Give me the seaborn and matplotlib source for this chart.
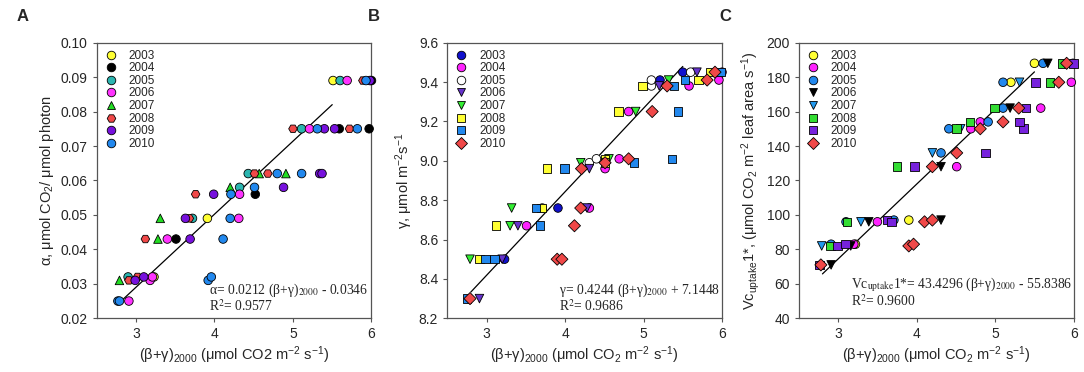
import matplotlib
matplotlib.use("Agg")
import matplotlib.pyplot as plt
import numpy as np
import pandas as pd
import seaborn as sns

years = ["2003", "2004", "2005", "2006", "2007", "2008", "2009", "2010"]

# panel A: alpha
a_x = [5.51, 3.91, 3.23,
       6.00, 5.59, 5.97, 4.52, 3.51,
       5.60, 5.11, 4.43, 4.32, 3.72, 2.90,
       5.69, 5.21, 4.32, 4.31, 3.40, 3.18, 3.21, 2.91,
       4.57, 4.91, 4.20, 3.31, 3.28, 2.79,
       5.89, 5.00, 5.72, 4.51, 4.68, 3.76, 3.68, 3.12, 2.91, 3.02,
       5.98, 5.40, 5.53, 5.34, 5.37, 4.88, 3.99, 3.63, 3.69, 2.99, 3.10,
       5.93, 5.31, 5.82, 4.80, 5.11, 4.51, 4.21, 4.20, 4.11, 3.92, 3.96, 2.77, 2.79]
a_y = [0.089, 0.049, 0.032,
       0.089, 0.075, 0.075, 0.056, 0.043,
       0.089, 0.075, 0.062, 0.058, 0.049, 0.032,
       0.089, 0.075, 0.056, 0.049, 0.043, 0.031, 0.032, 0.025,
       0.062, 0.062, 0.058, 0.049, 0.043, 0.031,
       0.089, 0.075, 0.075, 0.062, 0.062, 0.056, 0.049, 0.043, 0.031, 0.032,
       0.089, 0.075, 0.075, 0.062, 0.062, 0.058, 0.056, 0.049, 0.043, 0.031, 0.032,
       0.089, 0.075, 0.075, 0.062, 0.062, 0.058, 0.056, 0.049, 0.043, 0.031, 0.032, 0.025, 0.025]
a_n = [3, 5, 6, 8, 6, 10, 11, 13]

# panel B: gamma
b_x = [3.91, 3.23, 5.21, 5.50,
       3.51, 4.31, 4.51, 4.69, 4.81, 5.58, 5.96, 6.00,
       3.71, 4.31, 4.40, 5.10, 5.10, 5.60,
       2.91, 3.20, 3.40, 4.31, 4.28, 5.20, 5.68,
       2.79, 3.30, 3.32, 4.20, 4.56, 4.90, 5.32,
       2.91, 3.12, 3.70, 3.77, 4.51, 4.51, 4.68, 4.99, 5.70, 5.85,
       2.75, 2.99, 3.10, 3.68, 3.63, 3.99, 4.88, 5.36, 5.44, 5.39, 5.53, 5.98,
       2.79, 3.90, 3.96, 4.12, 4.20, 4.21, 4.51, 4.81, 5.11, 5.30, 5.81, 5.91]
b_y = [8.76, 8.50, 9.41, 9.45,
       8.67, 8.76, 8.96, 9.01, 9.25, 9.38, 9.41, 9.45,
       8.76, 8.99, 9.01, 9.38, 9.41, 9.45,
       8.30, 8.50, 8.67, 8.96, 8.76, 9.38, 9.45,
       8.50, 8.67, 8.76, 8.99, 9.01, 9.25, 9.41,
       8.50, 8.67, 8.76, 8.96, 9.01, 8.99, 9.25, 9.38, 9.41, 9.45,
       8.30, 8.50, 8.50, 8.67, 8.76, 8.96, 8.99, 9.01, 9.25, 9.38, 9.41, 9.45,
       8.30, 8.50, 8.50, 8.67, 8.76, 8.96, 8.99, 9.01, 9.25, 9.38, 9.41, 9.45]
b_n = [4, 8, 6, 7, 7, 10, 12, 12]

# panel C: Vc uptake
c_x = [3.22, 3.90, 5.20, 5.50,
       3.20, 3.50, 4.51, 4.69, 4.81, 5.58, 5.97, 5.99,
       2.91, 3.10, 3.71, 4.31, 4.41, 4.91, 5.10, 5.10, 5.61,
       2.91, 3.16, 3.39, 4.31, 4.31, 5.19, 5.67,
       2.79, 3.29, 4.20, 4.56, 5.31,
       2.90, 3.11, 3.75, 4.51, 4.68, 4.99, 5.70, 5.86,
       2.76, 2.99, 3.09, 3.62, 3.68, 3.97, 4.88, 5.36, 5.31, 5.39, 5.51, 6.00,
       2.78, 3.90, 3.96, 4.10, 4.20, 4.20, 4.51, 4.81, 5.10, 5.30, 5.81, 5.91]
c_y = [83, 97, 177, 188,
       83, 96, 128, 150, 154, 162, 177, 188,
       83, 96, 97, 136, 150, 154, 162, 177, 188,
       71, 82, 96, 128, 97, 162, 188,
       82, 96, 136, 150, 177,
       82, 96, 128, 150, 154, 162, 177, 188,
       71, 82, 83, 97, 96, 128, 136, 150, 154, 162, 177, 188,
       71, 82, 83, 96, 97, 128, 136, 150, 154, 162, 177, 188]
c_n = [4, 8, 9, 7, 5, 8, 12, 12]

# fitted lines (slope, intercept) and fit range
fit_x = [2.8, 5.5]
a_fit = (0.0212, -0.0346)
b_fit = (0.4244, 7.1448)
c_fit = (43.4296, -55.8386)

a_colors = ["#FFFF33", "#000000", "#2BB5B0", "#FF33FF", "#22DD22", "#F04848", "#7711DD", "#2288EE"]
a_markers = ["o", "o", "o", "o", "^", "H", "o", "o"]
b_colors = ["#1010CC", "#FF22FF", "#FFFFFF", "#6633CC", "#33EE33", "#FFFF33", "#2288EE", "#F04848"]
b_markers = ["o", "o", "o", "v", "v", "s", "s", "D"]
c_colors = ["#FFFF33", "#FF22FF", "#2288EE", "#000000", "#2299EE", "#33DD33", "#7722DD", "#F04848"]
c_markers = ["o", "o", "o", "v", "v", "s", "s", "D"]

sns.set_style("ticks")
plt.rcParams["font.family"] = ["Liberation Sans", "DejaVu Sans"]
plt.rcParams["mathtext.fontset"] = "custom"
plt.rcParams["mathtext.rm"] = "Liberation Sans"
plt.rcParams["mathtext.it"] = "Liberation Sans"
plt.rcParams["axes.edgecolor"] = "#555555"
plt.rcParams["axes.linewidth"] = 0.9

fig = plt.figure(figsize=(10.84, 3.72), dpi=100)
lefts = [0.0892, 0.4126, 0.737]
axes = [fig.add_axes([l, 0.1444, 0.2535, 0.741]) for l in lefts]


def panel(ax, xs, ys, counts, colors, markers, fit, ylim, yticks, ylabel, xlabel,
          eq, eq_x, eq_y, letter):
    yrs = np.repeat(years, counts)
    df = pd.DataFrame({"x": xs, "y": ys, "year": yrs})
    sns.scatterplot(data=df, x="x", y="y", hue="year", style="year",
                    palette=dict(zip(years, colors)),
                    markers=dict(zip(years, markers)),
                    s=38, edgecolor="black", linewidth=0.6, ax=ax,
                    clip_on=False, zorder=3)
    fx = np.array(fit_x)
    sns.lineplot(x=fx, y=fit[0] * fx + fit[1], color="black", lw=0.9, ax=ax, zorder=2)
    ax.set_xlim(2.5, 6)
    ax.set_xticks([3, 4, 5, 6])
    ax.set_ylim(*ylim)
    ax.set_yticks(yticks)
    ax.tick_params(labelsize=10, length=3, width=0.8, color="#555555")
    ax.set_ylabel(ylabel, fontsize=10.5, labelpad=3)
    ax.set_xlabel(xlabel, fontsize=10.5, labelpad=2)
    for sp in ax.spines.values():
        sp.set_visible(True)
    leg = ax.legend(loc="upper left", frameon=False, fontsize=8.5,
                    labelspacing=0.05, handlelength=1.2, handletextpad=0.9,
                    borderaxespad=0.2, markerscale=1.0)
    for h in leg.legend_handles:
        h.set_markeredgecolor("black")
        h.set_markeredgewidth(0.6)
    ax.text(eq_x, eq_y, eq[0], transform=ax.transAxes, fontsize=9.8,
            family="Liberation Serif", math_fontfamily="stix")
    ax.text(eq_x, eq_y - 0.064, eq[1], transform=ax.transAxes, fontsize=9.8,
            family="Liberation Serif", math_fontfamily="stix")
    ax.text(-0.29, 1.08, letter, transform=ax.transAxes, fontsize=12,
            fontweight="bold")


panel(axes[0], a_x, a_y, a_n, a_colors, a_markers, a_fit,
      (0.02, 0.10), np.arange(0.02, 0.101, 0.01),
      "α, μmol CO$_2$/ μmol photon",
      "(β+γ)$_{2000}$ (μmol CO2 m$^{-2}$ s$^{-1}$)",
      ["α= 0.0212 (β+γ)$_{2000}$ - 0.0346", "R$^2$= 0.9577"],
      0.41, 0.09, "A")
axes[0].set_yticklabels([f"{v:.2f}" for v in np.arange(0.02, 0.101, 0.01)])

panel(axes[1], b_x, b_y, b_n, b_colors, b_markers, b_fit,
      (8.2, 9.6), np.arange(8.2, 9.61, 0.2),
      "γ, μmol m$^{-2}$s$^{-1}$",
      "(β+γ)$_{2000}$ (μmol CO$_2$ m$^{-2}$ s$^{-1}$)",
      ["γ= 0.4244 (β+γ)$_{2000}$ + 7.1448", "R$^2$= 0.9686"],
      0.405, 0.09, "B")
axes[1].set_yticklabels([f"{v:.1f}" for v in np.arange(8.2, 9.61, 0.2)])

panel(axes[2], c_x, c_y, c_n, c_colors, c_markers, c_fit,
      (40, 200), np.arange(40, 201, 20),
      "Vc$_{uptake}$1*, (μmol CO$_2$ m$^{-2}$ leaf area s$^{-1}$)",
      "(β+γ)$_{2000}$ (μmol CO$_2$ m$^{-2}$ s$^{-1}$)",
      [r"Vc$_{\mathrm{uptake}}$1*= 43.4296 (β+γ)$_{2000}$ - 55.8386", "R$^2$= 0.9600"],
      0.19, 0.11, "C")

fig.savefig("out.png", dpi=100)
